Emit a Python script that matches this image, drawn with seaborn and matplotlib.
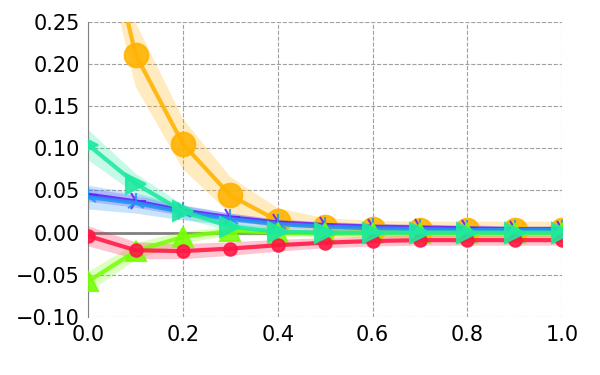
import numpy as np
import pandas as pd
import seaborn as sns
import matplotlib
matplotlib.use("Agg")
import matplotlib.pyplot as plt

x = [0.0, 0.1, 0.2, 0.3, 0.4, 0.5, 0.6, 0.7, 0.8, 0.9, 1.0]

orange = [0.45, 0.211, 0.105, 0.044, 0.014, 0.006, 0.004, 0.003, 0.003, 0.003, 0.003]
orange_err = [0.04, 0.038, 0.03, 0.022, 0.015, 0.011, 0.01, 0.01, 0.01, 0.01, 0.01]
teal = [0.104, 0.058, 0.025, 0.007, 0.001, 0.0, 0.0, 0.0, 0.0, 0.0, 0.0]
teal_err = [0.018, 0.012, 0.008, 0.005, 0.004, 0.003, 0.003, 0.003, 0.003, 0.003, 0.003]
purple = [0.045, 0.037, 0.026, 0.018, 0.012, 0.009, 0.007, 0.006, 0.005, 0.004, 0.004]
purple_err = [0.008, 0.007, 0.006, 0.005, 0.004, 0.004, 0.004, 0.004, 0.004, 0.004, 0.004]
blue = [0.042, 0.035, 0.024, 0.016, 0.010, 0.007, 0.005, 0.004, 0.003, 0.003, 0.003]
blue_err = [0.014, 0.012, 0.009, 0.007, 0.005, 0.004, 0.004, 0.004, 0.004, 0.004, 0.004]
red = [-0.004, -0.021, -0.022, -0.019, -0.015, -0.012, -0.010, -0.009, -0.009, -0.009, -0.009]
red_err = [0.012, 0.01, 0.009, 0.008, 0.007, 0.006, 0.006, 0.006, 0.006, 0.006, 0.006]
lgreen = [-0.058, -0.022, -0.005, 0.002, 0.0, -0.001, -0.001, -0.001, -0.001, -0.001, -0.001]
lgreen_err = [0.012, 0.01, 0.007, 0.005, 0.004, 0.004, 0.004, 0.004, 0.004, 0.004, 0.004]

series = [
    ("orange", orange, orange_err, "#FFB300", "o", 17),
    ("purple", purple, purple_err, "#651FFF", "4", 14),
    ("blue", blue, blue_err, "#2196F3", "2", 14),
    ("lgreen", lgreen, lgreen_err, "#76FF03", "^", 14),
    ("red", red, red_err, "#FF1744", "o", 9),
    ("teal", teal, teal_err, "#1DE9A0", ">", 15),
]

sns.set_style("white")
fig = plt.figure(figsize=(6, 3.75), dpi=100)
ax = fig.add_axes([0.147, 0.155, 0.79, 0.787])

ax.axhline(0, color="#808080", lw=2, zorder=1)

for name, y, err, c, m, ms in series:
    y = np.array(y)
    err = np.array(err)
    ax.fill_between(x, y - err, y + err, color=c, alpha=0.25, lw=0, zorder=2)
    sns.lineplot(x=x, y=y, ax=ax, color=c, lw=3, marker=m, markersize=ms,
                 markeredgewidth=1.5, markeredgecolor=c, alpha=0.88, zorder=3)

ax.set_xlim(0, 1)
ax.set_ylim(-0.1, 0.25)
ax.set_xticks([0.0, 0.2, 0.4, 0.6, 0.8, 1.0])
ax.set_yticks([-0.10, -0.05, 0.00, 0.05, 0.10, 0.15, 0.20, 0.25])
ax.set_yticklabels(["\u22120.10", "\u22120.05", "0.00", "0.05", "0.10", "0.15", "0.20", "0.25"])
ax.grid(True, color="#a0a0a0", ls="--", lw=0.8)
ax.tick_params(labelsize=15, length=0, pad=6, labelcolor="black")
for s in ["top", "right", "bottom"]:
    ax.spines[s].set_visible(False)
ax.spines["left"].set_color("#808080")
ax.set_xlabel("")
ax.set_ylabel("")

fig.savefig("out.png", dpi=100)
